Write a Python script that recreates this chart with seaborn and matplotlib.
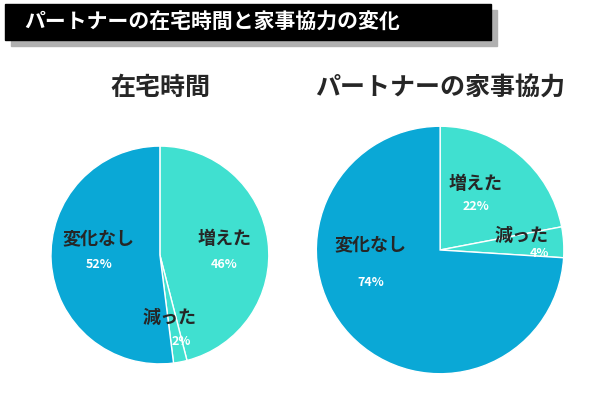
import matplotlib.pyplot as plt
import seaborn as sns
from matplotlib.patches import Rectangle

sns.set_theme(style="white")
plt.rcParams["font.family"] = "Noto Sans CJK JP"

title = "パートナーの在宅時間と家事協力の変化"
categories = ["増えた", "減った", "変化なし"]
home_time = [46, 2, 52]
housework = [22, 4, 74]
colors = ["#40E0D0", "#40E0D0", "#0AA8D6"]

fig = plt.figure(figsize=(6, 4), dpi=100)

# title bar with shadow
fig.patches.append(Rectangle((0.018, 0.885), 0.81, 0.09, transform=fig.transFigure,
                             color="#b0b0b0", zorder=0))
fig.patches.append(Rectangle((0.008, 0.9), 0.81, 0.09, transform=fig.transFigure,
                             color="black", zorder=1))
fig.text(0.04, 0.945, title, color="white", fontsize=15, fontweight="bold",
         va="center", ha="left", zorder=2)


def draw_pie(rect, values, subtitle, title_x, label_pos, pct_pos):
    ax = fig.add_axes(rect)
    ax.pie(values, colors=colors, startangle=90, counterclock=False,
           wedgeprops=dict(edgecolor="white", linewidth=1))
    ax.set_xlim(-1.01, 1.01)
    ax.set_ylim(-1.01, 1.01)
    ax.set_aspect("equal")
    fig.text(title_x, 0.78, subtitle, fontsize=18, fontweight="bold",
             ha="center", va="center")
    for cat, val, (x, y), (px, py) in zip(categories, values, label_pos, pct_pos):
        ax.text(x, y, cat, fontsize=13, fontweight="bold", ha="center", va="center")
        ax.text(px, py, f"{val}%", fontsize=9, color="white",
                fontweight="bold", ha="center", va="center")


draw_pie([0.083, 0.0875, 0.367, 0.55], home_time, "在宅時間", 0.267,
         [(0.59, 0.15), (0.09, -0.57), (-0.56, 0.15)],
         [(0.59, -0.09), (0.2, -0.79), (-0.56, -0.09)])
draw_pie([0.525, 0.0625, 0.417, 0.625], housework, "パートナーの家事協力", 0.733,
         [(0.29, 0.54), (0.66, 0.12), (-0.56, 0.04)],
         [(0.29, 0.35), (0.8, -0.03), (-0.56, -0.26)])

fig.savefig("out.png", dpi=100)
